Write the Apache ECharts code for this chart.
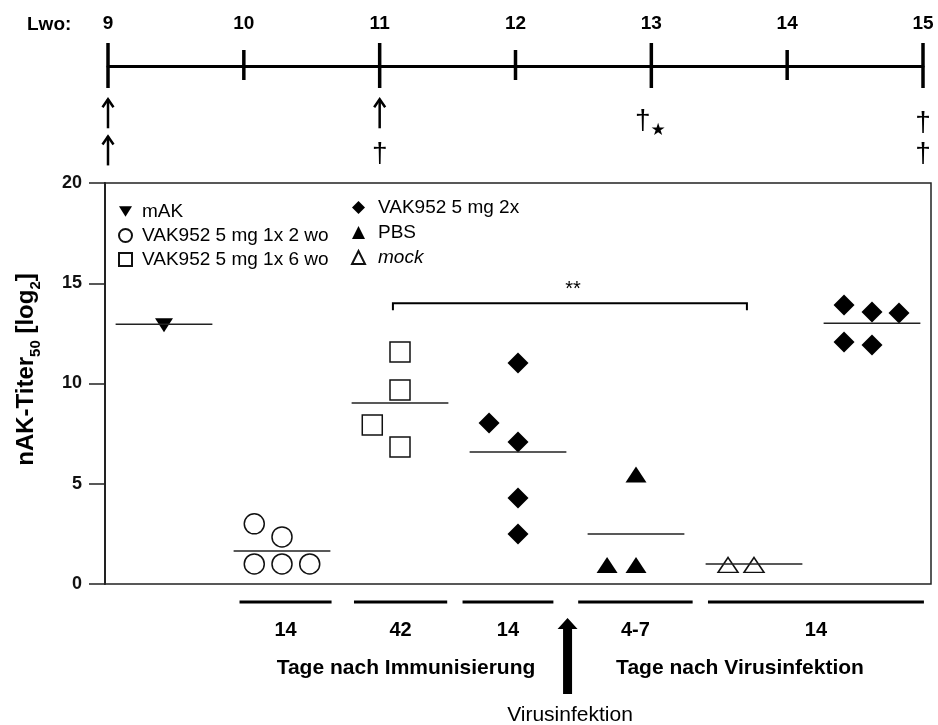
<!DOCTYPE html>
<html><head><meta charset="utf-8">
<script src="https://cdn.jsdelivr.net/npm/echarts@6/dist/echarts.min.js"></script>
<style>html,body{margin:0;padding:0;background:#fff}#c{width:938px;height:725px}</style>
</head><body><div id="c"></div>
<script>
// ---------- data ----------
const weeks = [9, 10, 11, 12, 13, 14, 15];
const majorWeeks = [9, 11, 13, 15];
const minorWeeks = [10, 12, 14];
// timeline events: week, row level below the line, kind
const eventWeeks = [9, 9, 11, 11, 13, 15, 15];
const eventRows  = [1, 2, 1, 2, 1.15, 1.15, 2];
const eventKinds = ['arrow', 'arrow', 'arrow', 'dagger', 'daggerStar', 'dagger', 'dagger'];

// scatter points: [group slot, jitter, titer]
const mAK      = [[0, 0, 12.9]];
const vak2wo   = [[1, -0.235, 3.0], [1, 0, 2.35], [1, -0.235, 1.0], [1, 0, 1.0], [1, 0.235, 1.0]];
const vak6wo   = [[2, 0, 11.57], [2, 0, 9.68], [2, -0.235, 7.93], [2, 0, 6.83]];
const vak2x    = [[3, 0, 11.02], [3, -0.245, 8.03], [3, 0, 7.08], [3, 0, 4.29], [3, 0, 2.49],
                  [6, -0.237, 13.92], [6, 0, 13.57], [6, 0.229, 13.52], [6, -0.237, 12.07], [6, 0, 11.92]];
const pbs      = [[4, 0, 5.46], [4, -0.245, 0.95], [4, 0, 0.95]];
const mock     = [[5, -0.22, 0.95], [5, 0, 0.95]];
const groupMeans = [12.95, 1.65, 9.03, 6.58, 2.49, 1.0, 13.0];

// period bars under the axis (in group slots) and their day labels
const periodStarts = [0.64, 1.61, 2.53, 3.51, 4.61];
const periodEnds   = [1.42, 2.40, 3.30, 4.48, 6.44];
const periodLabels = ['14', '42', '14', '4-7', '14'];
const infectionSlot = 3.42;
// significance bracket
const bracketFrom = 1.94, bracketTo = 4.94, bracketLevel = 14.0, bracketText = '**';

const yTicks = [0, 5, 10, 15, 20];

// ---------- chart ----------
const F = '"Liberation Sans", Arial, sans-serif';
const chart = echarts.init(document.getElementById('c'), null, {renderer: 'canvas'});
const toXY = a => a.map(d => [d[0] + d[1], d[2]]);
const hollow = {color: '#fff', borderColor: '#111', borderWidth: 1.5, opacity: 1};
const solid = {color: '#000', opacity: 1};

const option = {
  animation: false,
  backgroundColor: '#fff',
  textStyle: {fontFamily: F},
  grid: [
    {left: 105, right: 7, top: 183, bottom: 141, show: true, borderColor: '#222', borderWidth: 1.5, backgroundColor: 'transparent'},
    {left: 108, right: 15, top: 66, height: 104}
  ],
  xAxis: [
    {gridIndex: 0, type: 'value', min: -0.5, max: 6.5, show: false},
    {gridIndex: 1, type: 'value', min: 9, max: 15, interval: 1, position: 'top',
     axisLine: {onZero: false, lineStyle: {color: '#000', width: 3}},
     axisTick: {show: false}, splitLine: {show: false},
     axisLabel: {fontSize: 19, fontWeight: 'bold', color: '#000', fontFamily: F, margin: 33}}
  ],
  yAxis: [
    {gridIndex: 0, type: 'value', min: yTicks[0], max: yTicks[yTicks.length - 1], interval: 5,
     axisLine: {show: true, onZero: false, lineStyle: {color: '#222', width: 2}},
     axisTick: {show: true, length: 16, lineStyle: {color: '#222', width: 1.5}},
     splitLine: {show: false},
     axisLabel: {fontSize: 18, fontWeight: 'bold', color: '#111', fontFamily: F, margin: 23},
     name: '{a|nAK-Titer}{s|50}{a| [log}{s|2}{a|]}',
     nameLocation: 'middle', nameRotate: 90, nameGap: 62,
     nameTextStyle: {padding: [0, 0, 0, 28], rich: {
       a: {fontSize: 24, fontWeight: 'bold', fontFamily: F, color: '#000', verticalAlign: 'bottom', padding: [0, 0, 5, 0]},
       s: {fontSize: 15, fontWeight: 'bold', fontFamily: F, color: '#000', verticalAlign: 'bottom'}
     }}},
    {gridIndex: 1, type: 'value', min: -0.3, max: 2.5, inverse: true, show: false}
  ],
  legend: [
    {left: 113, top: 197, orient: 'vertical', itemWidth: 13, itemHeight: 13, itemGap: 5,
     textStyle: {fontSize: 19, color: '#000', fontFamily: F, padding: [0, 0, 0, 5]},
     data: ['mAK', 'VAK952 5 mg 1x 2 wo', 'VAK952 5 mg 1x 6 wo']},
    {left: 346, top: 193, orient: 'vertical', itemWidth: 13, itemHeight: 13, itemGap: 6,
     textStyle: {fontSize: 19, color: '#000', fontFamily: F, padding: [0, 0, 0, 8]},
     data: ['VAK952 5 mg 2x', 'PBS', {name: 'mock', textStyle: {fontStyle: 'italic'}}]}
  ],
  graphic: [
    {type: 'text', x: 27, y: 25, style: {text: 'Lwo:', font: 'bold 19px ' + F, fill: '#000', align: 'left', verticalAlign: 'middle'}},
    {type: 'text', x: 406, y: 668, style: {text: 'Tage nach Immunisierung', font: 'bold 21px ' + F, fill: '#000', align: 'center', verticalAlign: 'middle'}},
    {type: 'text', x: 740, y: 668, style: {text: 'Tage nach Virusinfektion', font: 'bold 21px ' + F, fill: '#000', align: 'center', verticalAlign: 'middle'}},
    {type: 'text', x: 570, y: 715, style: {text: 'Virusinfektion', font: '21px ' + F, fill: '#000', align: 'center', verticalAlign: 'middle'}}
  ],
  series: [
    {name: 'mAK', type: 'scatter', data: toXY(mAK), symbol: 'path://M0,0L20,0L10,16Z', symbolSize: [18, 14], itemStyle: solid, z: 3},
    {name: 'VAK952 5 mg 1x 2 wo', type: 'scatter', data: toXY(vak2wo), symbol: 'circle', symbolSize: 20, itemStyle: hollow, z: 3},
    {name: 'VAK952 5 mg 1x 6 wo', type: 'scatter', data: toXY(vak6wo), symbol: 'rect', symbolSize: 20, itemStyle: hollow, z: 3},
    {name: 'VAK952 5 mg 2x', type: 'scatter', data: toXY(vak2x), symbol: 'diamond', symbolSize: 21, itemStyle: solid, z: 3},
    {name: 'PBS', type: 'scatter', data: toXY(pbs), symbol: 'triangle', symbolSize: [21, 16], itemStyle: solid, z: 3},
    {name: 'mock', type: 'scatter', data: toXY(mock), symbol: 'triangle', symbolSize: [20, 15], itemStyle: hollow, z: 3},
    // group mean lines
    {type: 'custom', silent: true, z: 4, data: groupMeans.map((m, i) => [i, m]),
     renderItem: (params, api) => {
       const a = api.coord([api.value(0) - 0.41, api.value(1)]);
       const b = api.coord([api.value(0) + 0.41, api.value(1)]);
       return {type: 'line', shape: {x1: a[0], y1: a[1], x2: b[0], y2: b[1]}, style: {stroke: '#222', lineWidth: 1.5}};
     }},
    // significance bracket
    {type: 'custom', silent: true, z: 4, data: [[bracketFrom, bracketTo, bracketLevel]],
     renderItem: (params, api) => {
       const a = api.coord([api.value(0), api.value(2)]);
       const b = api.coord([api.value(1), api.value(2)]);
       return {type: 'group', children: [
         {type: 'polyline', shape: {points: [[a[0], a[1] + 7], [a[0], a[1]], [b[0], b[1]], [b[0], b[1] + 7]]}, style: {stroke: '#000', lineWidth: 2, fill: null}},
         {type: 'text', x: (a[0] + b[0]) / 2 + 3, y: a[1] - 14, style: {text: bracketText, font: '20px ' + F, fill: '#000', align: 'center', verticalAlign: 'middle'}}
       ]};
     }},
    // period bars and day labels below the axis
    {type: 'custom', silent: true, clip: false, data: periodStarts.map((s, i) => [s, periodEnds[i], 0]),
     renderItem: (params, api) => {
       const a = api.coord([api.value(0), 0]);
       const b = api.coord([api.value(1), 0]);
       return {type: 'group', children: [
         {type: 'line', shape: {x1: a[0], y1: a[1] + 18, x2: b[0], y2: b[1] + 18}, style: {stroke: '#000', lineWidth: 3}},
         {type: 'text', x: (a[0] + b[0]) / 2, y: a[1] + 46, style: {text: periodLabels[params.dataIndex], font: 'bold 20px ' + F, fill: '#000', align: 'center', verticalAlign: 'middle'}}
       ]};
     }},
    // virus infection arrow
    {type: 'custom', silent: true, clip: false, data: [[infectionSlot, 0]],
     renderItem: (params, api) => {
       const p = api.coord([api.value(0), 0]);
       const x = p[0], t = p[1] + 34, bt = p[1] + 110;
       return {type: 'polygon', shape: {points: [[x, t], [x + 10, t + 11], [x + 4.5, t + 11], [x + 4.5, bt], [x - 4.5, bt], [x - 4.5, t + 11], [x - 10, t + 11]]}, style: {fill: '#000'}};
     }},
    // timeline ticks
    {type: 'custom', silent: true, clip: false, xAxisIndex: 1, yAxisIndex: 1,
     data: majorWeeks.map(w => [w, -0.3, 1]).concat(minorWeeks.map(w => [w, -0.3, 0])),
     renderItem: (params, api) => {
       const p = api.coord([api.value(0), api.value(1)]);
       const major = api.value(2) === 1;
       const up = major ? 23 : 16, dn = major ? 22 : 14;
       return {type: 'line', shape: {x1: p[0], y1: p[1] - up, x2: p[0], y2: p[1] + dn}, style: {stroke: '#000', lineWidth: 3.5}};
     }},
    // timeline events
    {type: 'custom', silent: true, clip: false, xAxisIndex: 1, yAxisIndex: 1,
     data: eventWeeks.map((w, i) => [w, eventRows[i]]),
     renderItem: (params, api) => {
       const p = api.coord([api.value(0), api.value(1)]);
       const kind = eventKinds[params.dataIndex];
       if (kind === 'arrow') {
         const x = p[0], y = p[1] - 1;
         return {type: 'group', children: [
           {type: 'line', shape: {x1: x, y1: y - 14, x2: x, y2: y + 15}, style: {stroke: '#000', lineWidth: 2.5}},
           {type: 'polyline', shape: {points: [[x - 5.5, y - 6], [x, y - 14], [x + 5.5, y - 6]]}, style: {stroke: '#000', lineWidth: 2.5, fill: null}}
         ]};
       }
       if (kind === 'daggerStar') {
         return {type: 'text', x: p[0] - 1, y: p[1] + 3, style: {text: '{d|†}{s|★}', align: 'center', verticalAlign: 'middle',
           rich: {d: {font: '28px ' + F, fill: '#000', verticalAlign: 'bottom', padding: [0, 0, 4, 0]},
                  s: {font: '17px "DejaVu Sans"', fill: '#000', verticalAlign: 'bottom'}}}};
       }
       return {type: 'text', x: p[0], y: p[1] + 3, style: {text: '†', font: '28px ' + F, fill: '#000', align: 'center', verticalAlign: 'middle'}};
     }}
  ]
};
chart.setOption(option);
</script>
</body></html>
